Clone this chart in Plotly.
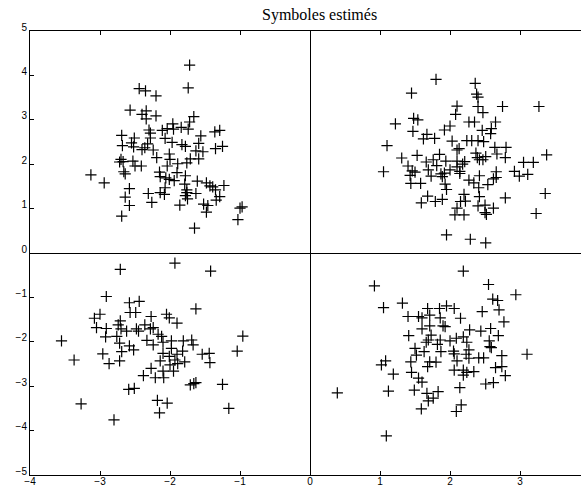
import plotly.graph_objects as go

# Cluster 1 (top-left)
x_q1 = [-1.72, -2.44, -2.35, -1.74, -2.20, -2.57, -2.40, -2.34, -2.34, -2.20,
        -1.66, -1.72, -1.96, -1.95, -1.84, -1.74, -2.30, -2.28, -2.28, -2.11,
        -2.04, -2.69, -2.51, -2.55, -2.68, -2.52, -1.56, -1.59, -1.36, -1.29,
        -2.07, -1.97, -1.83, -1.78, -2.32, -2.36, -2.40, -2.24, -2.01, -2.00,
        -1.63, -1.53, -1.35, -1.25, -2.19, -2.70, -2.72, -2.67, -2.53, -2.50,
        -2.41, -1.71, -1.59, -1.89, -1.76, -2.04, -2.66, -2.64, -3.13, -2.15,
        -2.14, -2.94, -2.06, -2.01, -1.94, -1.90, -1.78, -1.61, -1.79, -1.76,
        -1.48, -1.43, -1.39, -1.23, -2.58, -2.64, -2.31, -2.26, -2.14, -2.08,
        -2.07, -1.63, -1.78, -1.75, -1.76, -1.35, -1.34, -1.29, -2.58, -1.86,
        -1.52, -1.46, -1.48, -1.00, -0.97, -1.03, -2.69, -1.65]
y_q1 = [4.23, 3.70, 3.65, 3.72, 3.54, 3.22, 3.12, 3.20, 3.02, 3.09,
        3.07, 2.95, 2.91, 2.79, 2.83, 2.79, 2.77, 2.70, 2.59, 2.76,
        2.80, 2.65, 2.59, 2.48, 2.42, 2.39, 2.64, 2.47, 2.73, 2.76,
        2.58, 2.49, 2.44, 2.40, 2.46, 2.37, 2.33, 2.32, 2.23, 2.11,
        2.30, 2.28, 2.35, 2.40, 2.15, 2.11, 2.05, 2.06, 2.07, 1.96,
        1.96, 2.12, 2.12, 2.01, 2.03, 1.96, 1.83, 1.78, 1.76, 1.82,
        1.72, 1.58, 1.69, 1.66, 1.63, 1.81, 1.74, 1.62, 1.55, 1.42,
        1.58, 1.51, 1.49, 1.52, 1.45, 1.26, 1.34, 1.14, 1.36, 1.32,
        1.47, 1.34, 1.29, 1.22, 1.36, 1.42, 1.19, 1.27, 1.07, 1.08,
        1.10, 1.07, 0.92, 1.01, 1.04, 0.75, 0.83, 0.56]

# Cluster 2 (top-right)
x_q2 = [1.80, 2.36, 1.45, 2.38, 2.40, 2.10, 2.40, 2.75, 3.27, 2.47,
        2.08, 1.48, 1.54, 1.22, 2.27, 2.35, 2.65, 1.47, 2.46, 2.59,
        2.58, 1.67, 1.62, 1.78, 1.92, 2.00, 2.03, 2.24, 2.31, 2.40,
        2.48, 1.10, 2.64, 2.80, 2.79, 2.67, 2.13, 2.10, 1.31, 1.53,
        1.40, 1.85, 1.94, 1.76, 1.66, 2.37, 2.39, 2.47, 2.51, 2.42,
        1.05, 1.46, 1.50, 1.43, 1.69, 1.81, 2.10, 2.21, 2.10, 2.18,
        1.87, 1.92, 1.89, 2.00, 2.14, 2.14, 1.73, 2.42, 2.66, 2.66,
        2.62, 2.92, 2.99, 3.05, 3.19, 3.38, 3.11, 1.44, 1.58, 1.93,
        1.95, 2.27, 2.34, 2.41, 2.54, 1.68, 1.59, 1.79, 1.89, 2.20,
        2.15, 2.22, 2.42, 2.40, 2.50, 2.62, 2.52, 2.50, 2.79, 2.10,
        2.07, 2.20, 3.36, 3.23, 1.95, 2.29, 2.51]
y_q2 = [3.91, 3.82, 3.60, 3.58, 3.51, 3.31, 3.30, 3.30, 3.30, 3.16,
        3.12, 3.03, 3.00, 2.91, 2.95, 2.95, 2.95, 2.74, 2.76, 2.80,
        2.69, 2.67, 2.57, 2.58, 2.77, 2.86, 2.52, 2.53, 2.53, 2.53,
        2.51, 2.42, 2.38, 2.38, 2.15, 2.23, 2.35, 2.32, 2.14, 2.20,
        1.96, 2.22, 2.07, 2.10, 2.05, 2.25, 2.15, 2.10, 2.17, 2.10,
        1.83, 1.85, 1.82, 1.75, 1.87, 1.97, 2.07, 2.06, 1.94, 2.00,
        1.78, 1.80, 1.72, 1.87, 1.84, 1.79, 1.73, 1.74, 1.83, 1.70,
        1.67, 1.84, 1.73, 2.04, 2.04, 2.21, 1.77, 1.57, 1.57, 1.55,
        1.43, 1.64, 1.58, 1.47, 1.54, 1.28, 1.13, 1.16, 1.21, 1.32,
        1.16, 1.17, 1.27, 1.06, 1.08, 1.01, 0.87, 0.91, 1.24, 1.01,
        0.86, 0.86, 1.34, 0.89, 0.41, 0.31, 0.23]

# Cluster 3 (bottom-left)
x_q3 = [-1.93, -2.71, -1.42, -2.91, -2.58, -2.44, -1.63, -2.57, -2.49, -3.00,
        -3.08, -2.27, -2.05, -2.01, -1.90, -2.71, -2.74, -3.05, -2.91, -2.70,
        -2.62, -2.48, -2.45, -2.36, -2.28, -2.24, -2.17, -2.12, -0.96, -3.55,
        -2.92, -2.76, -2.72, -2.33, -2.24, -2.10, -1.98, -1.81, -1.69, -1.67,
        -2.58, -2.52, -2.69, -1.98, -1.82, -1.90, -2.10, -2.01, -1.54, -1.44,
        -1.43, -1.04, -2.96, -3.37, -2.87, -2.72, -2.14, -2.00, -1.93, -1.89,
        -1.79, -2.27, -2.10, -1.95, -2.38, -2.21, -2.09, -1.71, -1.66, -1.63,
        -1.25, -2.59, -2.51, -2.18, -2.04, -3.27, -2.15, -1.16, -2.80]
y_q3 = [-0.23, -0.37, -0.41, -0.98, -1.12, -1.09, -1.26, -1.34, -1.34, -1.38,
        -1.47, -1.43, -1.38, -1.46, -1.58, -1.53, -1.62, -1.68, -1.70, -1.71,
        -1.76, -1.71, -1.76, -1.62, -1.71, -1.68, -1.83, -1.88, -1.87, -1.98,
        -1.89, -1.88, -2.03, -1.97, -2.07, -2.01, -1.98, -1.98, -1.96, -2.07,
        -2.09, -2.18, -2.22, -2.15, -2.21, -2.28, -2.26, -2.33, -2.28, -2.26,
        -2.47, -2.21, -2.27, -2.41, -2.49, -2.43, -2.43, -2.52, -2.41, -2.49,
        -2.45, -2.60, -2.66, -2.66, -2.76, -2.81, -2.81, -2.97, -2.94, -2.92,
        -2.96, -3.07, -3.05, -3.32, -3.38, -3.40, -3.60, -3.50, -3.76]

# Cluster 4 (bottom-right)
x_q4 = [2.19, 0.92, 2.55, 2.94, 2.61, 2.68, 1.32, 1.05, 1.95, 1.85,
        1.68, 2.06, 2.70, 2.46, 1.40, 1.55, 1.60, 1.71, 1.86, 2.15,
        2.77, 1.71, 1.60, 1.90, 1.93, 2.28, 2.44, 2.58, 1.41, 1.73,
        2.69, 1.69, 1.86, 2.00, 2.09, 2.19, 1.66, 1.82, 2.24, 2.56,
        1.50, 1.63, 1.87, 2.05, 2.57, 2.59, 3.10, 2.06, 2.23, 2.27,
        1.52, 2.74, 1.08, 1.02, 1.44, 1.71, 1.80, 1.68, 2.10, 2.27,
        2.41, 2.48, 2.65, 2.74, 2.06, 2.19, 2.24, 2.34, 1.45, 2.19,
        1.19, 2.79, 1.55, 1.60, 2.51, 2.62, 2.14, 1.49, 1.12, 1.67,
        1.83, 1.69, 1.76, 2.16, 2.09, 1.59, 1.09, 0.39]
y_q4 = [-0.41, -0.74, -0.71, -0.94, -1.04, -1.07, -1.13, -1.23, -1.19, -1.25,
        -1.25, -1.25, -1.28, -1.32, -1.43, -1.43, -1.46, -1.40, -1.46, -1.47,
        -1.55, -1.64, -1.71, -1.64, -1.66, -1.73, -1.76, -1.70, -1.86, -1.85,
        -1.86, -1.96, -1.96, -1.98, -1.92, -1.89, -2.01, -2.06, -2.01, -1.98,
        -2.15, -2.22, -2.22, -2.21, -2.11, -2.13, -2.28, -2.27, -2.28, -2.18,
        -2.30, -2.31, -2.43, -2.52, -2.45, -2.45, -2.46, -2.56, -2.43, -2.37,
        -2.36, -2.36, -2.58, -2.56, -2.64, -2.64, -2.69, -2.67, -2.69, -2.75,
        -2.73, -2.76, -2.82, -2.91, -2.95, -2.92, -3.03, -3.09, -3.11, -3.16,
        -3.12, -3.33, -3.27, -3.42, -3.57, -3.51, -4.12, -3.15]

title_text = "Symboles estimés"
x_ticks = [-4, -3, -2, -1, 0, 1, 2, 3]
y_ticks = [-5, -4, -3, -2, -1, 0, 1, 2, 3, 4, 5]

fig = go.Figure()
for xs, ys in [(x_q1, y_q1), (x_q2, y_q2), (x_q3, y_q3), (x_q4, y_q4)]:
    fig.add_trace(go.Scatter(
        x=xs, y=ys, mode="markers",
        marker=dict(symbol="cross-thin", size=8, line=dict(width=1.2, color="black"), color="black"),
        showlegend=False, hoverinfo="skip"))

fig.update_layout(
    width=581, height=486,
    margin=dict(l=30, r=0, t=31, b=11, autoexpand=False),
    paper_bgcolor="white", plot_bgcolor="white",
    font=dict(family="Liberation Sans, Arial, sans-serif", size=10, color="black"),
    annotations=[dict(text=title_text, x=0.526, y=1.0, xref="paper", yref="paper",
                      xanchor="center", yanchor="bottom", yshift=5, showarrow=False,
                      font=dict(family="Liberation Serif, Times New Roman, serif", size=16, color="black"))],
)
fig.update_xaxes(range=[-4, 3.871], tickmode="array", tickvals=x_ticks, automargin=False,
                 ticks="inside", ticklen=4, tickcolor="black", showline=True, linecolor="black",
                 linewidth=1, mirror="ticks", showgrid=False, zeroline=True, zerolinecolor="black",
                 zerolinewidth=1, ticklabelstandoff=-3)
fig.update_yaxes(range=[-5, 5], tickmode="array", tickvals=y_ticks, automargin=False,
                 ticks="inside", ticklen=4, tickcolor="black", showline=True, linecolor="black",
                 linewidth=1, mirror=False, showgrid=False, zeroline=True, zerolinecolor="black",
                 zerolinewidth=1, ticklabelshift=-4)

fig.write_html("out.html", config={"displayModeBar": False},
               post_script="document.body.style.margin='0';document.body.style.overflow='hidden';")
